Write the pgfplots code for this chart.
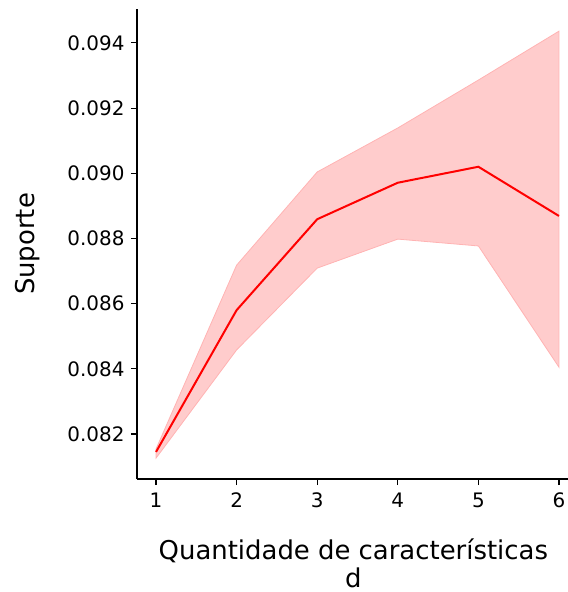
\documentclass[border=0pt]{standalone}
\usepackage{pgfplots}
\pgfplotsset{compat=1.18}
\usepackage{fontspec}
\setmainfont{DejaVu Sans}
\usetikzlibrary{calc}

\definecolor{bandfill}{HTML}{FFCCCC}
\definecolor{bandedge}{HTML}{FFB3B3}

\begin{document}
\begin{tikzpicture}
\begin{axis}[
  name=ax,
  scale only axis,
  width=431bp, height=470bp,
  xmin=0.764, xmax=6.112,
  ymin=0.08062, ymax=0.09504,
  axis x line*=bottom, axis y line*=left,
  axis line style={line width=1.1bp, black},
  xtick={1,2,3,4,5,6},
  ytick={0.082,0.084,0.086,0.088,0.090,0.092,0.094},
  scaled y ticks=false,
  yticklabel style={/pgf/number format/fixed, /pgf/number format/precision=3,
    /pgf/number format/fixed zerofill},
  /pgf/number format/assume math mode=true,
  tick align=outside,
  major tick length=6bp,
  tick style={line width=1.1bp, black},
  tick label style={font=\fontsize{20}{24}\selectfont},
  xticklabel style={yshift=-4bp},
  yticklabel style={xshift=-3bp},
  label style={font=\fontsize{26}{28}\selectfont},
  xlabel={Quantidade de características\\d},
  xlabel style={align=center, at={(axis description cs:0.502,0)}, anchor=north, yshift=-56bp},
  ylabel={Suporte},
  ylabel style={at={(axis description cs:-0.253,0.5)}, anchor=center, rotate=0},
  clip=false,
]
% confidence band: upper bound forward, lower bound backward
\addplot[fill=bandfill, draw=bandedge, line width=0.8bp] coordinates {
  (1,0.08154) (2,0.08718) (3,0.09004) (4,0.09139) (5,0.09286) (6,0.09436)
  (6,0.08405) (5,0.08777) (4,0.08798) (3,0.08709) (2,0.08458) (1,0.08126)
} -- cycle;
% mean support
\addplot[red, line width=2bp, mark=none] coordinates {
  (1,0.08145) (2,0.08580) (3,0.08859) (4,0.08971) (5,0.09020) (6,0.08869)
};
\end{axis}
\pgfresetboundingbox
\path[use as bounding box] ($(ax.south west)+(-137bp,-113bp)$) rectangle ($(ax.north east)+(0,9bp)$);
\end{tikzpicture}
\end{document}
